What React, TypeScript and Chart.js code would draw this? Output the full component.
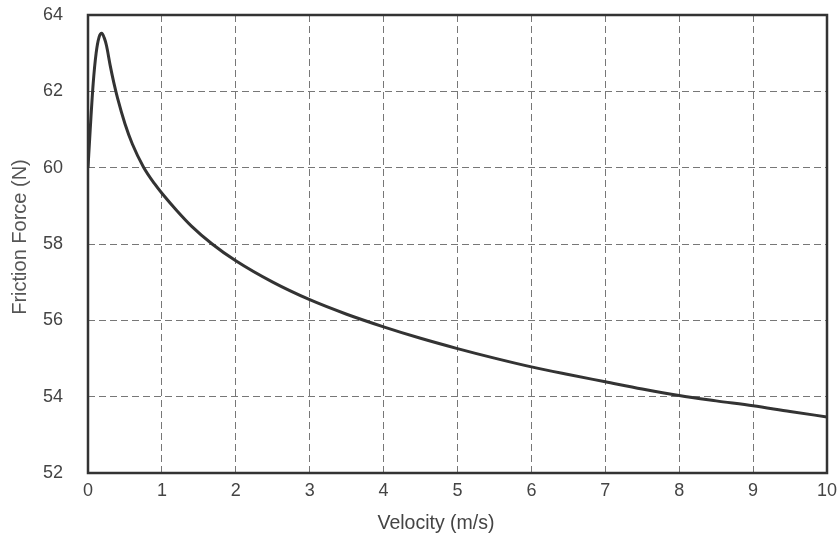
import React, { useEffect, useRef } from "react";
import { Chart, registerables } from "chart.js";

Chart.register(...registerables);

const velocity = [0, 0.03, 0.07, 0.11, 0.15, 0.185, 0.22, 0.25, 0.3, 0.35, 0.4, 0.5, 0.6, 0.75, 0.9, 1.0, 1.2, 1.4, 1.68, 2.0, 2.5, 3.0, 3.5, 4.0, 4.5, 5.0, 5.5, 6.0, 6.5, 7.0, 7.5, 8.0, 8.5, 9.0, 9.5, 10.0];
const friction = [60.0, 61.0, 62.2, 63.0, 63.42, 63.52, 63.4, 63.2, 62.68, 62.22, 61.82, 61.15, 60.62, 60.02, 59.58, 59.33, 58.88, 58.47, 58.0, 57.56, 57.0, 56.54, 56.16, 55.83, 55.53, 55.26, 55.01, 54.78, 54.58, 54.39, 54.2, 54.03, 53.89, 53.76, 53.61, 53.47];

const xTicks = [0, 1, 2, 3, 4, 5, 6, 7, 8, 9, 10];
const yTicks = [52, 54, 56, 58, 60, 62, 64];
const xTitle = "Velocity (m/s)";
const yTitle = "Friction Force (N)";

const FONT = "Liberation Sans, Arial, sans-serif";

const frame = {
  id: "frame",
  afterDatasetsDraw(chart: any) {
    const { ctx, chartArea: a } = chart;
    ctx.save();
    ctx.strokeStyle = "#333";
    ctx.lineWidth = 2.5;
    ctx.strokeRect(a.left, a.top, a.right - a.left, a.bottom - a.top);
    ctx.restore();
  },
  afterDraw(chart: any) {
    const { ctx, chartArea: a } = chart;
    ctx.save();
    ctx.textAlign = "center";
    ctx.textBaseline = "middle";
    ctx.fillStyle = "#444";
    ctx.font = `19.5px ${FONT}`;
    ctx.fillText(xTitle, a.left + 348, a.bottom + 51);
    ctx.fillStyle = "#555";
    ctx.font = `20px ${FONT}`;
    ctx.translate(20.5, a.top + 222);
    ctx.rotate(-Math.PI / 2);
    ctx.fillText(yTitle, 0, 0);
    ctx.restore();
  },
};

export default function App() {
  const ref = useRef<HTMLCanvasElement>(null);
  useEffect(() => {
    const chart = new Chart(ref.current!, {
      type: "line",
      data: {
        datasets: [
          {
            data: velocity.map((v, i) => ({ x: v, y: friction[i] })),
            borderColor: "#333",
            borderWidth: 3,
            pointRadius: 0,
            cubicInterpolationMode: "monotone",
            fill: false,
          },
        ],
      },
      options: {
        animation: false,
        responsive: false,
        maintainAspectRatio: false,
        layout: { padding: { top: 15, right: 12, left: 0, bottom: 0 } },
        plugins: { legend: { display: false }, tooltip: { enabled: false } },
        scales: {
          x: {
            type: "linear",
            min: 0,
            max: 10,
            afterBuildTicks: (s: any) => { s.ticks = xTicks.map((v) => ({ value: v })); },
            afterFit: (s: any) => { s.height = 66; s.paddingLeft = 0; s.paddingRight = 0; },
            grid: { color: "#777", lineWidth: 1, drawTicks: false, tickLength: 0 },
            border: { display: false, dash: [7, 4] },
            ticks: { color: "#444", font: { family: FONT, size: 18 }, padding: 7, maxRotation: 0 },
            title: { display: false },
          },
          y: {
            min: 52,
            max: 64,
            afterBuildTicks: (s: any) => { s.ticks = yTicks.map((v) => ({ value: v })); },
            afterFit: (s: any) => { s.width = 88; s.paddingTop = 0; s.paddingBottom = 0; },
            grid: { color: "#777", lineWidth: 1, drawTicks: false, tickLength: 0 },
            border: { display: false, dash: [7, 4] },
            ticks: { color: "#444", font: { family: FONT, size: 18 }, padding: 25 },
            title: { display: false },
          },
        },
      },
      plugins: [frame],
    } as any);
    return () => chart.destroy();
  }, []);
  return (
    <div style={{ position: "fixed", left: 0, top: 0, width: 839, height: 539, background: "#fff" }}>
      <canvas ref={ref} width={839} height={539} style={{ width: 839, height: 539 }} />
    </div>
  );
}
